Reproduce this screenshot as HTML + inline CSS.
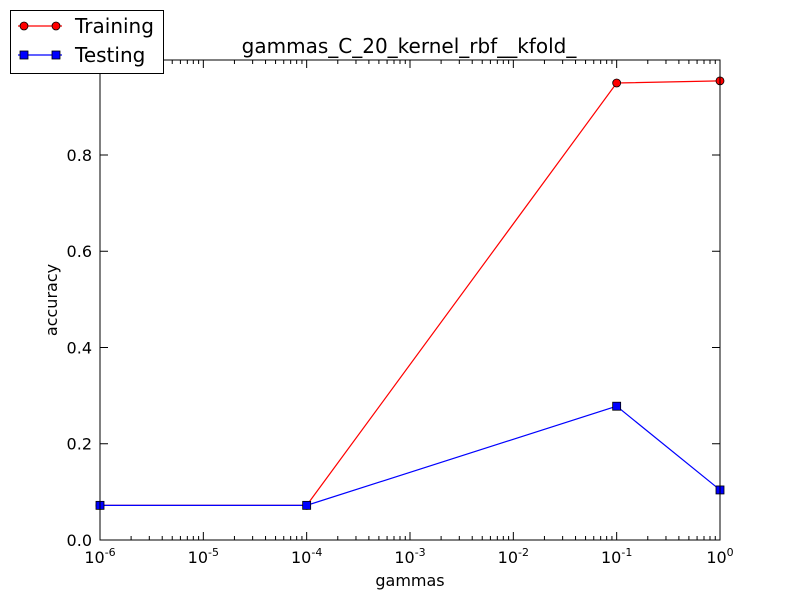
<!DOCTYPE html>
<html><head><meta charset="utf-8"><style>
html,body{margin:0;padding:0;background:#fff;}
svg{display:block;font-family:"DejaVu Sans","Liberation Sans",sans-serif;}
</style></head><body>
<svg id="chart" width="800" height="600" viewBox="0 0 800 600"></svg>
<script>
const gammas = [1e-6, 1e-4, 1e-1, 1e0];
const trainingAcc = [0.072, 0.072, 0.9496, 0.954];
const testingAcc = [0.072, 0.072, 0.278, 0.104];
const yTicks = [0, 0.2, 0.4, 0.6, 0.8];
const yTickLabels = ["0.0", "0.2", "0.4", "0.6", "0.8"];
const xExps = [-6, -5, -4, -3, -2, -1, 0];

const NS = "http://www.w3.org/2000/svg";
const svg = document.getElementById('chart');
const L = 100, R = 720, T = 60, B = 540;
const xMinE = -6, xMaxE = 0, yMax = 0.9974;
function xs(v){ return L + (Math.log10(v) - xMinE) / (xMaxE - xMinE) * (R - L); }
function ys(v){ return B - v / yMax * (B - T); }
function mk(tag, attrs, parent){
  const e = document.createElementNS(NS, tag);
  for (const k in attrs) e.setAttribute(k, attrs[k]);
  (parent || svg).appendChild(e);
  return e;
}

const ticks = mk('g', {});


yTicks.forEach((v, i) => {
  const y = ys(v);
  mk('line', {x1: L, x2: L + 8, y1: y, y2: y, stroke: '#000'}, ticks);
  mk('line', {x1: R, x2: R - 8, y1: y, y2: y, stroke: '#000'}, ticks);
  const t = mk('text', {x: L - 8, y: y + 6, 'text-anchor': 'end', 'font-size': 16}, ticks);
  
  
  t.textContent = yTickLabels[i];
});
xExps.forEach(e => {
  const x = xs(Math.pow(10, e));
  mk('line', {x1: x, x2: x, y1: B, y2: B - 8, stroke: '#000'}, ticks);
  mk('line', {x1: x, x2: x, y1: T, y2: T + 8, stroke: '#000'}, ticks);
  if (e < 0) for (let m = 2; m <= 9; m++) {
    const xm = xs(m * Math.pow(10, e));
    mk('line', {x1: xm, x2: xm, y1: B, y2: B - 4, stroke: '#000'}, ticks);
    mk('line', {x1: xm, x2: xm, y1: T, y2: T + 4, stroke: '#000'}, ticks);
  }
  const t = mk('text', {x: x, y: B + 23, 'text-anchor': 'middle', 'font-size': 16}, ticks);
  
  
  t.innerHTML = '10<tspan dy="-7" font-size="11">' + e + '</tspan>';
});

function series(vals, color, marker, name){
  const g = mk('g', {});
  
  
  const pts = gammas.map((x, i) => xs(x) + ',' + ys(vals[i])).join(' ');
  mk('polyline', {points: pts, fill: 'none', stroke: color, 'stroke-width': 1.2}, g);
  gammas.forEach((x, i) => {
    let m;
    if (marker === 'o') m = mk('circle', {cx: xs(x), cy: ys(vals[i]), r: 4, fill: color, stroke: '#000', 'stroke-width': 0.8}, g);
    else m = mk('rect', {x: xs(x) - 4, y: ys(vals[i]) - 4, width: 8, height: 8, fill: color, stroke: '#000', 'stroke-width': 0.8}, g);
    
    
  });
}
series(trainingAcc, '#ff0000', 'o', 'training-series');
series(testingAcc, '#0000ff', 's', 'testing-series');

const frame = mk('rect', {x: L, y: T, width: R - L, height: B - T, fill: 'none', stroke: '#000', 'stroke-width': 1});


</script>
<svg style="position:absolute;left:0;top:0" width="800" height="600">
<text x="409" y="53" text-anchor="middle" font-size="20">gammas_C_20_kernel_rbf__kfold_</text>
<text x="410" y="586" text-anchor="middle" font-size="16">gammas</text>
<text x="57" y="300" text-anchor="middle" font-size="16" transform="rotate(-90 57 300)">accuracy</text>
<g>
<rect x="10.5" y="10.5" width="153" height="63" fill="#fff" stroke="#000"/>
<g>
<line x1="18" x2="62" y1="26" y2="26" stroke="#ff0000" stroke-width="1.2"/>
<circle cx="24" cy="26" r="4" fill="#ff0000" stroke="#000" stroke-width="0.8"/>
<circle cx="56" cy="26" r="4" fill="#ff0000" stroke="#000" stroke-width="0.8"/>
<text x="75" y="33" font-size="20">Training</text>
</g>
<g>
<line x1="18" x2="62" y1="55" y2="55" stroke="#0000ff" stroke-width="1.2"/>
<rect x="20" y="51" width="8" height="8" fill="#0000ff" stroke="#000" stroke-width="0.8"/>
<rect x="52" y="51" width="8" height="8" fill="#0000ff" stroke="#000" stroke-width="0.8"/>
<text x="75" y="62" font-size="20">Testing</text>
</g>
</g>
</svg>
</body></html>
